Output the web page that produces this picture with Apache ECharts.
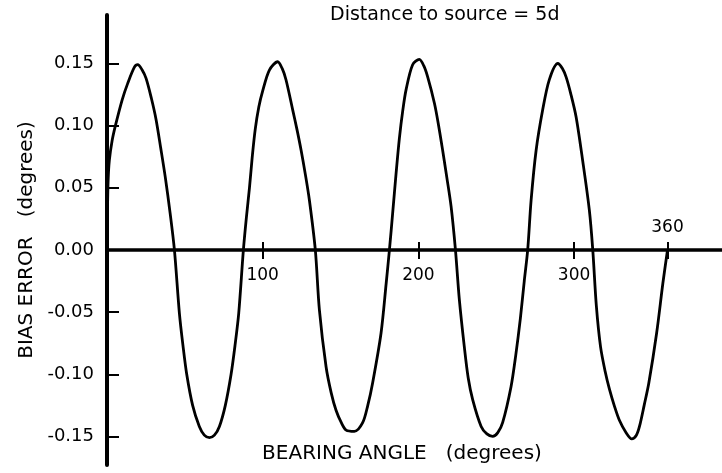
<!DOCTYPE html>
<html>
<head>
<meta charset="utf-8">
<script src="https://cdn.jsdelivr.net/npm/echarts@6/dist/echarts.min.js"></script>
<style>
  html, body { margin: 0; padding: 0; background: #fff; }
  #chart { width: 722px; height: 473px; }
</style>
</head>
<body>
<div id="chart"></div>
<script>
// bearing angle (degrees) and bias error (degrees)
var bearingDeg = [
  0, 0.3, 0.7, 1.5, 3.3, 5.4, 9.7, 13.3, 17.6, 19.7, 22.5, 25.1, 28.5, 31.5, 34.5, 37.5, 40.5, 43.3,
  46.5, 48.8, 51.2, 55, 59.3, 62.5, 65.8, 69, 72.2, 76, 79.7, 82.2, 84.6, 87.6,
  89.6, 91.5, 93.3, 95.2, 97.5, 100, 104.3, 109.6, 112.5, 115, 119.3, 122, 124.7, 127.5, 130, 133.8,
  136.4, 140.7, 144, 147.1, 150.5, 153.6, 158.9, 164.2, 167.5, 170.6, 176, 179.3, 181.4,
  183.5, 185.7, 187.8, 190, 192.1, 196.3, 200.6, 203.5, 206, 210.3, 213, 215.6, 218.3, 221, 223.8,
  226.3, 229.5, 232, 234.9, 240.3, 244, 247.7, 251, 254.1, 259.5, 262.5, 265.5, 268, 270.2,
  272.4, 275.6, 279.8, 284.1, 289.5, 292.5, 294.9, 298, 301.3, 305.5, 309.8, 312,
  314.3, 317, 320, 322.7, 326, 329.1, 333.4, 337, 340, 342, 345, 348, 353, 357, 360
]
var biasErr = [
  0, 0.03, 0.055, 0.072, 0.088, 0.100, 0.1206, 0.134, 0.147, 0.149, 0.145, 0.138, 0.122, 0.105, 0.082, 0.058, 0.030, 0,
  -0.051, -0.077, -0.100, -0.125, -0.142, -0.149, -0.151, -0.149, -0.142, -0.125, -0.100, -0.077, -0.051, 0,
  0.027, 0.050, 0.075, 0.097, 0.115, 0.128, 0.1447, 0.1514, 0.146, 0.1367, 0.1125, 0.097, 0.080, 0.060, 0.040, 0,
  -0.048, -0.094, -0.115, -0.129, -0.139, -0.145, -0.146, -0.139, -0.125, -0.107, -0.067, -0.027, 0,
  0.030, 0.062, 0.090, 0.1125, 0.129, 0.149, 0.1533, 0.148, 0.139, 0.118, 0.100, 0.080, 0.058, 0.035, 0,
  -0.040, -0.078, -0.103, -0.1206, -0.142, -0.148, -0.150, -0.147, -0.139, -0.110, -0.085, -0.055, -0.025, 0,
  0.040, 0.080, 0.1125, 0.137, 0.150, 0.146, 0.139, 0.125, 0.107, 0.072, 0.032, 0,
  -0.045, -0.078, -0.098, -0.112, -0.126, -0.137, -0.147, -0.152, -0.149, -0.142, -0.125, -0.107, -0.067, -0.027, 0
]
var yTicks = [-0.15, -0.10, -0.05, 0, 0.05, 0.10, 0.15]
var xTicks = [100, 200, 300, 360]
var xLabelsBelow = [100, 200, 300]
var xLabelsAbove = [360]

var font = 'DejaVu Sans'
var points = bearingDeg.map(function (d, i) { return [d, biasErr[i]] })

var chart = echarts.init(document.getElementById('chart'))
chart.setOption({
  backgroundColor: '#fff',
  animation: false,
  title: {
    text: 'Distance to source = 5d',
    left: 330,
    top: 6,
    padding: 0,
    textStyle: { fontFamily: font, fontSize: 19, fontWeight: 'normal', color: '#000' }
  },
  grid: {
    left: 107,
    right: 0,
    top: 15,
    bottom: 8,
    containLabel: false,
    outerBoundsMode: 'none'
  },
  // the x axis sits on y = 0: moved up from the grid edge with a negative offset
  xAxis: [
    {
      type: 'value',
      min: 0,
      max: 395,
      position: 'bottom',
      offset: -215,
      axisLine: { onZero: false, lineStyle: { color: '#000', width: 3.5 } },
      axisTick: { customValues: xTicks, length: 9, lineStyle: { color: '#000', width: 2 } },
      axisLabel: { customValues: xLabelsBelow, margin: 17, fontFamily: font, fontSize: 17, color: '#000' },
      splitLine: { show: false },
      name: 'BEARING ANGLE   (degrees)',
      nameLocation: 'middle',
      nameGap: 194,
      nameTextStyle: { fontFamily: font, fontSize: 20, color: '#000', padding: [0, 25, 0, 0] }
    },
    {
      // same scale, draws the upper half of the ticks and the 360 label
      type: 'value',
      min: 0,
      max: 395,
      position: 'top',
      offset: -235,
      axisLine: { show: false, onZero: false },
      axisTick: { customValues: xTicks, length: 8, lineStyle: { color: '#000', width: 2 } },
      axisLabel: { customValues: xLabelsAbove, margin: 14, fontFamily: font, fontSize: 17, color: '#000' },
      splitLine: { show: false }
    }
  ],
  yAxis: {
    type: 'value',
    min: -0.173,
    max: 0.189,
    axisLine: { show: true, onZero: false, lineStyle: { color: '#000', width: 4 } },
    axisTick: { customValues: yTicks, inside: true, length: 12, lineStyle: { color: '#000', width: 2 } },
    axisLabel: {
      customValues: yTicks,
      margin: 13,
      fontFamily: font,
      fontSize: 18,
      color: '#000',
      formatter: function (v) { return v.toFixed(2) }
    },
    splitLine: { show: false },
    name: 'BIAS ERROR   (degrees)',
    nameLocation: 'middle',
    nameGap: 66,
    nameTextStyle: { fontFamily: font, fontSize: 20, color: '#000' }
  },
  series: [
    {
      type: 'line',
      xAxisIndex: 0,
      yAxisIndex: 0,
      data: points,
      showSymbol: false,
      smooth: 0.3,
      lineStyle: { color: '#000', width: 2.8 }
    }
  ]
})
</script>
</body>
</html>
